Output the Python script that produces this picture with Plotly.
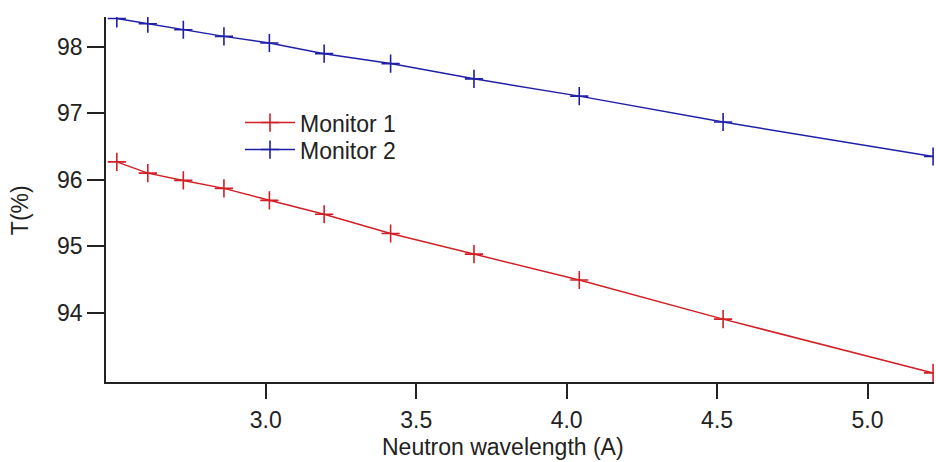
import plotly.graph_objects as go

wavelength = [2.505, 2.608, 2.726, 2.861, 3.012, 3.194, 3.415, 3.692, 4.042, 4.520, 5.218]
monitor1 = [96.27, 96.10, 95.99, 95.87, 95.69, 95.48, 95.19, 94.88, 94.49, 93.90, 93.09]
monitor2 = [98.43, 98.35, 98.26, 98.16, 98.06, 97.90, 97.75, 97.52, 97.26, 96.87, 96.35]
names = ["Monitor 1", "Monitor 2"]
colors = ["#d21f26", "#1f1fa8"]

FONT = "Liberation Sans, Arial, sans-serif"
FS = 23

fig = go.Figure()
for i, (name, ys, c) in enumerate(zip(names, [monitor1, monitor2], colors)):
    fig.add_trace(go.Scatter(
        x=wavelength, y=ys, name=name, mode="lines+markers",
        legend="legend" if i == 0 else "legend2",
        line=dict(color=c, width=1.5),
        marker=dict(symbol="cross-thin", size=13, line=dict(color=c, width=1.6), color=c),
    ))

leg_common = dict(xanchor="left", yanchor="middle", bgcolor="rgba(0,0,0,0)",
                  font=dict(size=FS), itemwidth=50, borderwidth=0)

fig.update_layout(
    width=936, height=462,
    margin=dict(l=106, r=2, t=17, b=80),
    paper_bgcolor="white", plot_bgcolor="white",
    font=dict(family=FONT, size=FS, color="#222"),
    showlegend=True,
    legend=dict(x=(240 - 106) / 828, y=(381.7 - 122.5) / 364.7, **leg_common),
    legend2=dict(x=(240 - 106) / 828, y=(381.7 - 149.5) / 364.7, **leg_common),
    xaxis=dict(range=[2.469, 5.221], tickvals=[3.0, 3.5, 4.0, 4.5, 5.0],
               ticktext=["3.0", "3.5", "4.0", "4.5", "5.0"],
               showline=True, linecolor="#222", linewidth=1.5,
               ticks="outside", ticklen=15, tickwidth=1.5, tickcolor="#222",
               ticklabelstandoff=2,
               showgrid=False, zeroline=False),
    yaxis=dict(range=[92.953, 98.452], tickvals=[94, 95, 96, 97, 98],
               showline=True, linecolor="#222", linewidth=1.5,
               ticks="outside", ticklen=17, tickwidth=1.5, tickcolor="#222",
               showgrid=False, zeroline=False),
    annotations=[
        dict(text="Neutron wavelength (A)", xref="paper", yref="paper",
             x=(503 - 106) / 828, y=-(447 - 381.7) / 364.7, showarrow=False,
             xanchor="center", yanchor="middle", font=dict(size=FS)),
        dict(text="T(%)", xref="paper", yref="paper",
             x=-(106 - 20) / 828, y=(381.7 - 210) / 364.7, showarrow=False,
             textangle=-90, xanchor="center", yanchor="middle", font=dict(size=FS)),
    ],
)

fig.write_html("out.html")
